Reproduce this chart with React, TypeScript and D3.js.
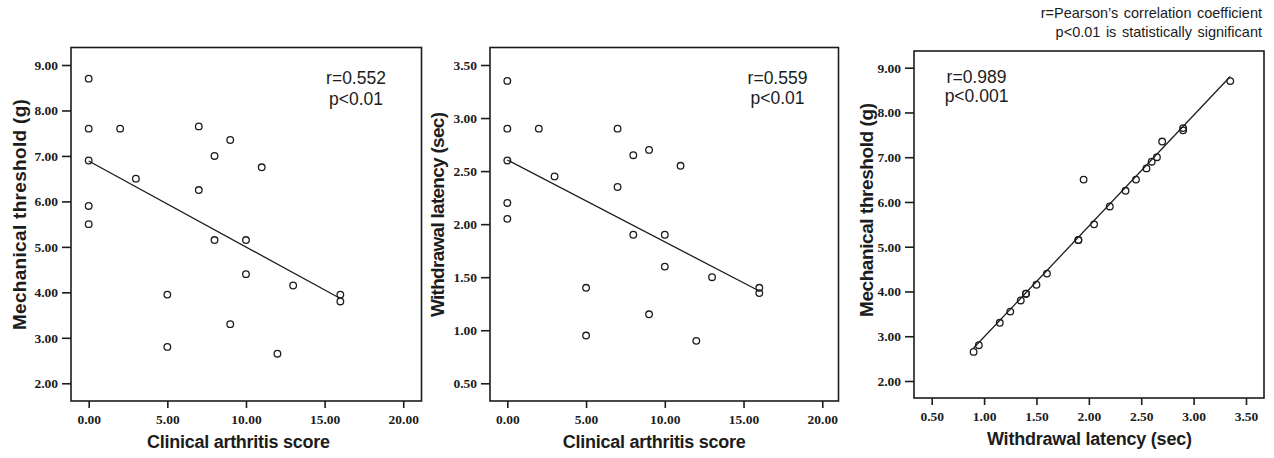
import React, { useEffect, useRef } from 'react';
import * as d3 from 'd3';

// panel A: clinical score vs mechanical threshold
const scoreA = [0, 0, 2, 0, 3, 0, 0, 7, 9, 8, 11, 7, 8, 10, 10, 13, 16, 16, 5, 9, 5, 12];
const thresholdA = [8.7, 7.6, 7.6, 6.9, 6.5, 5.9, 5.5, 7.65, 7.35, 7.0, 6.75, 6.25, 5.15, 5.15, 4.4, 4.15, 3.95, 3.8, 3.95, 3.3, 2.8, 2.65];

// panel B: clinical score vs withdrawal latency
const scoreB = [0, 0, 2, 0, 3, 0, 0, 7, 9, 8, 11, 7, 8, 10, 10, 13, 16, 16, 5, 9, 5, 12];
const latencyB = [3.35, 2.9, 2.9, 2.6, 2.45, 2.2, 2.05, 2.9, 2.7, 2.65, 2.55, 2.35, 1.9, 1.9, 1.6, 1.5, 1.4, 1.35, 1.4, 1.15, 0.95, 0.9];

// panel C: withdrawal latency vs mechanical threshold
const latencyC = [3.35, 2.9, 2.9, 2.7, 2.65, 2.6, 2.55, 2.45, 2.35, 2.2, 2.05, 1.9, 1.9, 1.95, 1.6, 1.5, 1.4, 1.4, 1.35, 1.25, 1.15, 0.95, 0.9];
const thresholdC = [8.7, 7.65, 7.6, 7.35, 7.0, 6.9, 6.75, 6.5, 6.25, 5.9, 5.5, 5.15, 5.15, 6.5, 4.4, 4.15, 3.95, 3.95, 3.8, 3.55, 3.3, 2.8, 2.65];

const scoreTicks = [0, 5, 10, 15, 20];
const thresholdTicks = [2, 3, 4, 5, 6, 7, 8, 9];
const latencyTicks = [0.5, 1, 1.5, 2, 2.5, 3, 3.5];

const notesA = ['r=0.552', 'p<0.01'];
const notesB = ['r=0.559', 'p<0.01'];
const notesC = ['r=0.989', 'p<0.001'];
const header = ['r=Pearson\u2019s correlation coefficient', 'p<0.01 is statistically significant'];

const INK = '#1c1c1c';
const SANS = "'Liberation Sans', Arial, sans-serif";
const SERIF = "'Liberation Serif', 'Times New Roman', 'DejaVu Serif', serif";

const panels = [
  {
    x: scoreA, y: thresholdA, xDomain: [-1.125, 21.16], yDomain: [1.61, 9.385],
    xTicks: scoreTicks, yTicks: thresholdTicks,
    frame: { l: 71, t: 47.5, r: 421.5, b: 401 },
    xTitle: 'Clinical arthritis score', xTitlePos: [238.5, 448, 183],
    yTitle: 'Mechanical threshold (g)', yTitlePos: [19.5, 214.6, 231],
    notes: notesA, notePos: [356, 84.3, 105],
  },
  {
    x: scoreB, y: latencyB, xDomain: [-1.1, 21.03], yDomain: [0.333, 3.665],
    xTicks: scoreTicks, yTicks: latencyTicks,
    frame: { l: 490, t: 47.5, r: 838.5, b: 401 },
    xTitle: 'Clinical arthritis score', xTitlePos: [654.3, 448, 183],
    yTitle: 'Withdrawal latency (sec)', yTitlePos: [437.5, 214.5, 205],
    notes: notesB, notePos: [777.5, 83.5, 103.5],
  },
  {
    x: latencyC, y: thresholdC, xDomain: [0.331, 3.672], yDomain: [1.62, 9.373],
    xTicks: latencyTicks, yTicks: thresholdTicks,
    frame: { l: 914, t: 51, r: 1264, b: 398 },
    xTitle: 'Withdrawal latency (sec)', xTitlePos: [1089.5, 445, 205],
    yTitle: 'Mechanical threshold (g)', yTitlePos: [866, 210, 214],
    notes: notesC, notePos: [976.5, 82.7, 102],
  },
];

function drawPanel(svg: any, p: any) {
  const f = p.frame;
  const xs = d3.scaleLinear().domain(p.xDomain).range([f.l, f.r]);
  const ys = d3.scaleLinear().domain(p.yDomain).range([f.b, f.t]);
  const g = svg.append('g');

  g.append('rect')
    .attr('x', f.l).attr('y', f.t)
    .attr('width', f.r - f.l).attr('height', f.b - f.t)
    .attr('fill', 'white').attr('stroke', INK).attr('stroke-width', 1.6);

  const yAxis = g.append('g')
    .attr('transform', `translate(${f.l},0)`)
    .call(d3.axisLeft(ys).tickValues(p.yTicks).tickFormat(d3.format('.2f')).tickSize(9).tickPadding(4));
  const xAxis = g.append('g')
    .attr('transform', `translate(0,${f.b})`)
    .call(d3.axisBottom(xs).tickValues(p.xTicks).tickFormat(d3.format('.2f')).tickSize(7).tickPadding(6));

  [yAxis, xAxis].forEach(a => {
    a.select('.domain').remove();
    a.selectAll('line').attr('stroke', INK).attr('stroke-width', 1.6);
    a.selectAll('text')
      .attr('fill', INK)
      .style('font-family', SERIF)
      .style('font-size', '13.5px')
      .style('font-weight', 'bold');
  });

  // least squares fit, drawn over the data's x range like SPSS does
  const mx = d3.mean(p.x) as number;
  const my = d3.mean(p.y) as number;
  const sxy = d3.sum(p.x, (v: number, i: number) => (v - mx) * (p.y[i] - my));
  const sxx = d3.sum(p.x, (v: number) => (v - mx) * (v - mx));
  const slope = sxy / sxx;
  const icpt = my - slope * mx;
  const ext = d3.extent(p.x) as [number, number];
  const line = d3.line<number>().x(v => xs(v)).y(v => ys(icpt + slope * v));
  g.append('path')
    .attr('d', line(ext))
    .attr('fill', 'none').attr('stroke', INK).attr('stroke-width', 1.3);

  g.selectAll('circle.pt')
    .data(p.x.map((v: number, i: number) => [v, p.y[i]]))
    .enter()
    .append('circle')
    .attr('class', 'pt')
    .attr('cx', (d: number[]) => xs(d[0]))
    .attr('cy', (d: number[]) => ys(d[1]))
    .attr('r', 3.3)
    .attr('fill', 'none').attr('stroke', INK).attr('stroke-width', 1.3);

  const [nx, n1, n2] = p.notePos;
  g.selectAll('text.note')
    .data(p.notes)
    .enter()
    .append('text')
    .attr('class', 'note')
    .attr('x', nx)
    .attr('y', (d: string, i: number) => (i === 0 ? n1 : n2))
    .attr('text-anchor', 'middle')
    .style('font-family', SANS).style('font-size', '17.5px')
    .attr('fill', INK)
    .text((d: string) => d);

  const [tx, ty, tl] = p.xTitlePos;
  g.append('text')
    .attr('x', tx).attr('y', ty)
    .attr('text-anchor', 'middle')
    .style('font-family', SANS).style('font-size', '18px').style('font-weight', 'bold')
    .attr('fill', INK)
    .attr('textLength', tl).attr('lengthAdjust', 'spacing')
    .text(p.xTitle);

  const [yx, yy, yl] = p.yTitlePos;
  g.append('text')
    .attr('transform', `translate(${yx},${yy}) rotate(-90)`)
    .attr('dy', '0.35em')
    .attr('text-anchor', 'middle')
    .style('font-family', SANS).style('font-size', '19px').style('font-weight', 'bold')
    .attr('fill', INK)
    .attr('textLength', yl).attr('lengthAdjust', 'spacing')
    .text(p.yTitle);
}

export default function App() {
  const ref = useRef<SVGSVGElement>(null);

  useEffect(() => {
    document.body.style.margin = '0';
    const svg = d3.select(ref.current);
    svg.selectAll('*').remove();
    svg.append('rect').attr('width', 1274).attr('height', 458).attr('fill', 'white');

    panels.forEach(p => drawPanel(svg, p));

    svg.selectAll('text.header')
      .data(header)
      .enter()
      .append('text')
      .attr('class', 'header')
      .attr('x', 1262)
      .attr('y', (d: string, i: number) => 18 + i * 19)
      .attr('text-anchor', 'end')
      .style('font-family', SANS).style('font-size', '14.5px').style('word-spacing', '1.5px')
      .attr('fill', INK)
      .text((d: string) => d);
  }, []);

  return <svg ref={ref} width={1274} height={458} style={{ display: 'block' }} />;
}
